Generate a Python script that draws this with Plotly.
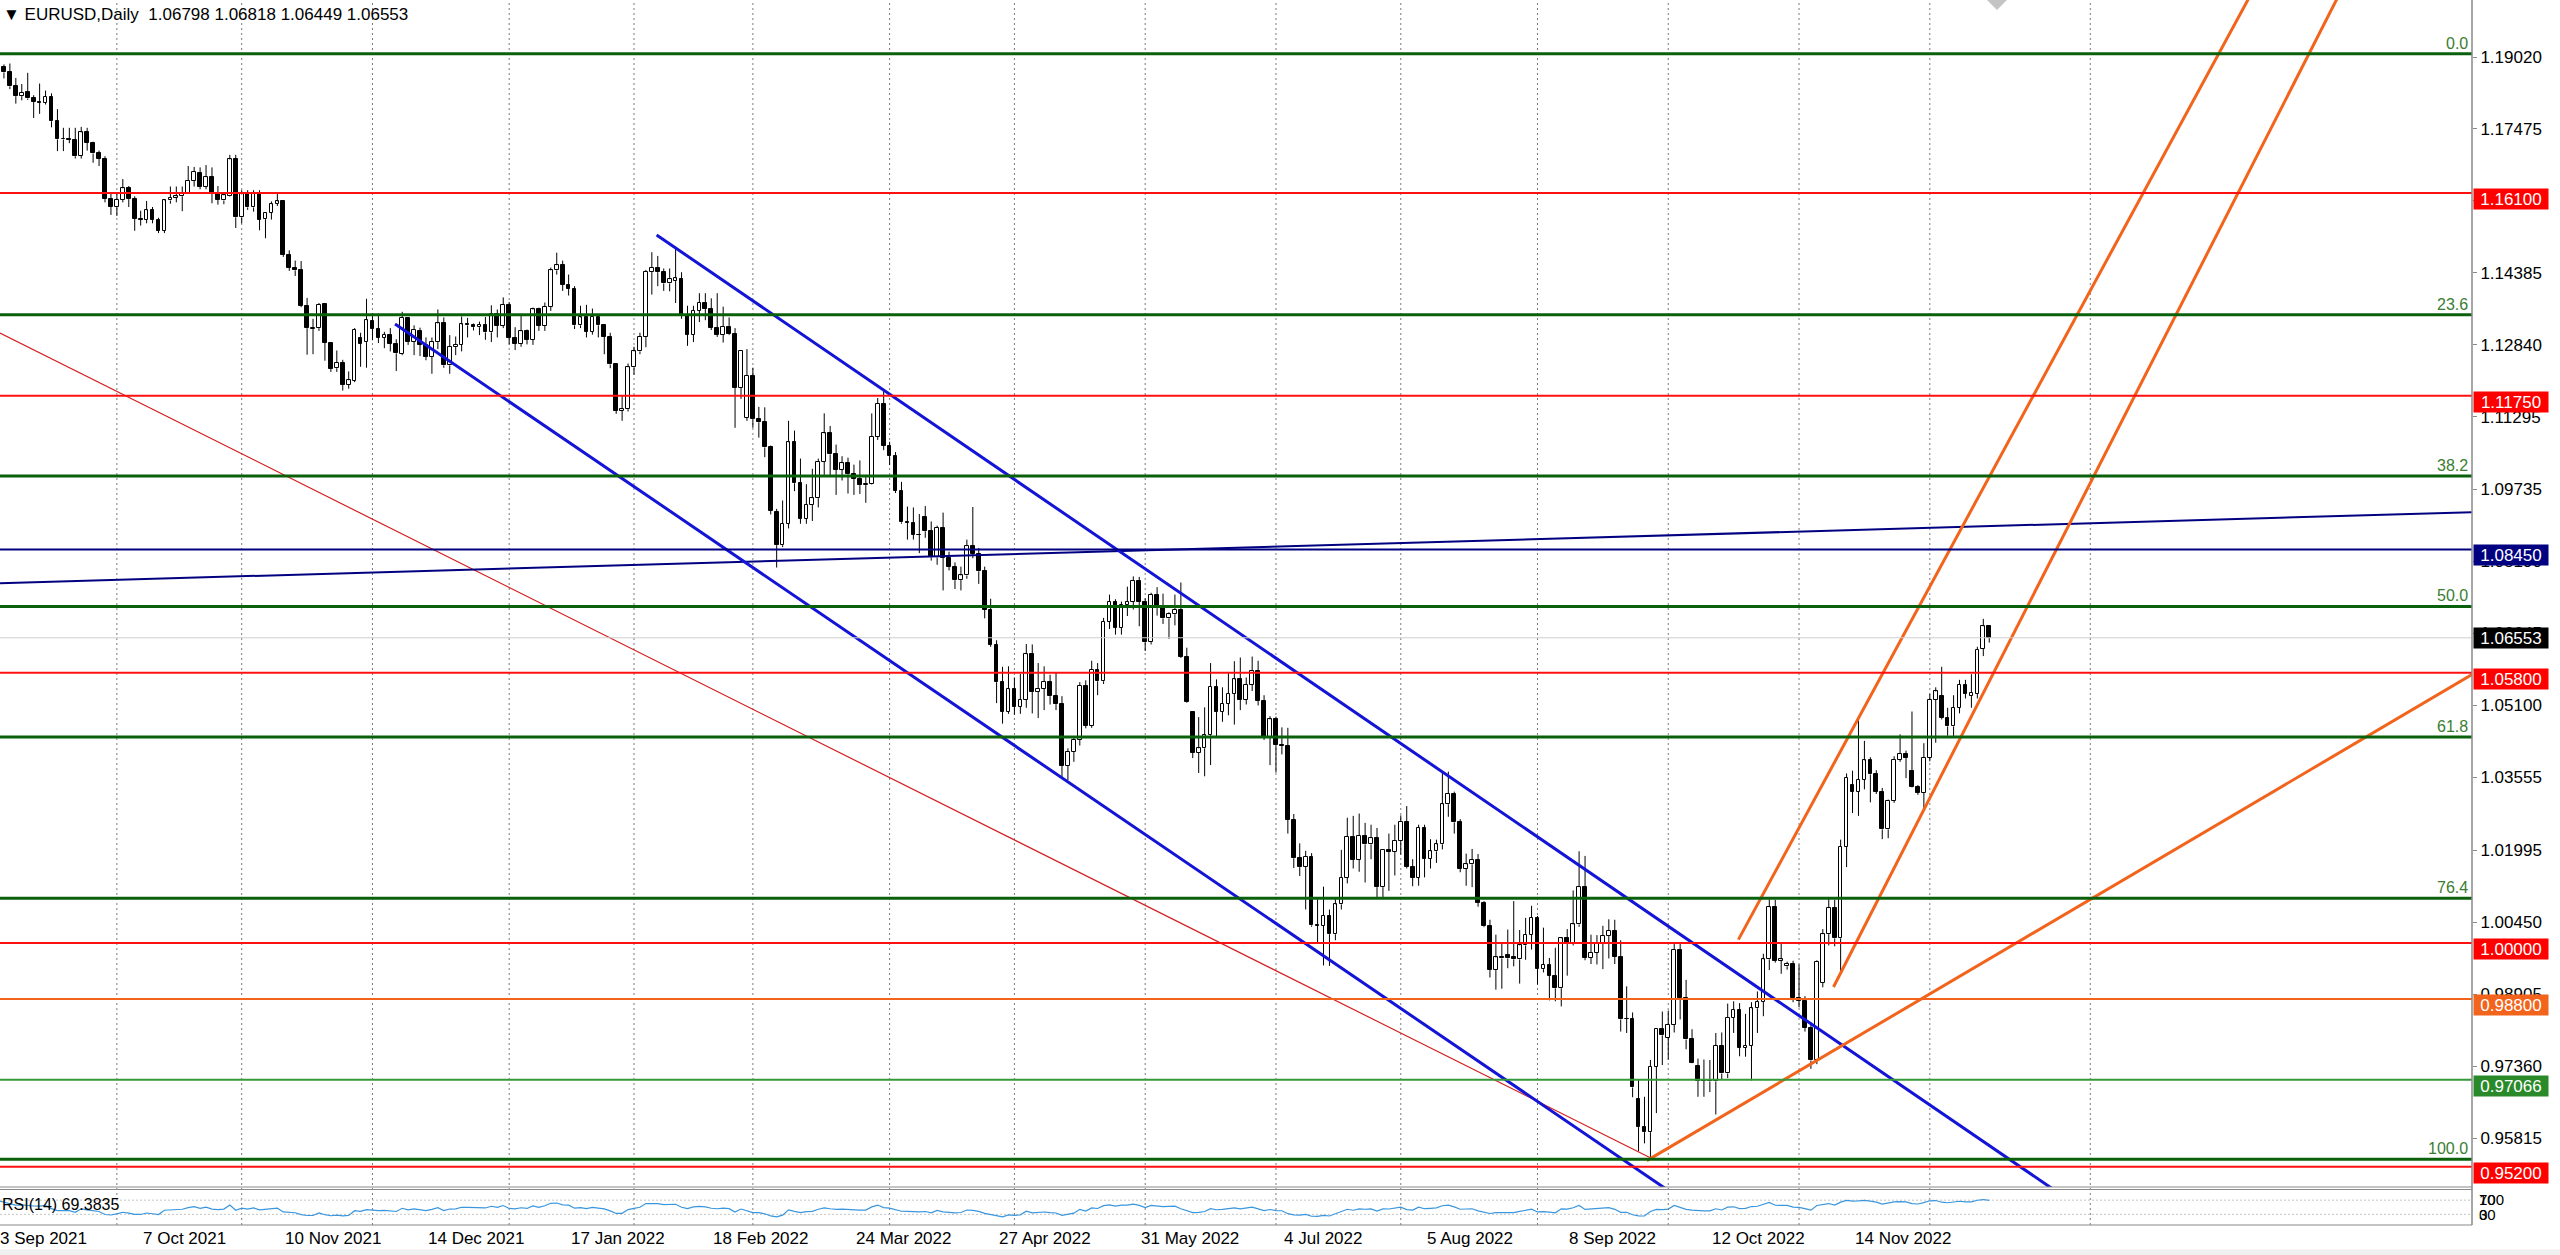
import numpy as np
import plotly.graph_objects as go

# ---------------------------------------------------------------- data
symbol = "EURUSD"
timeframe = "Daily"

opens = [
 1.1874,1.1881,1.1869,1.1839,1.1818,1.1826,1.1813,1.1805,1.1804,1.1817,
 1.1764,1.1725,1.1725,1.1724,1.1690,1.1740,1.1718,1.1695,1.1683,1.1597,
 1.1580,1.1595,1.1620,1.1597,1.1555,1.1553,1.1573,1.1552,1.1529,1.1594,
 1.1600,1.1603,1.1610,1.1636,1.1653,1.1623,1.1644,1.1608,1.1594,1.1603,
 1.1682,1.1558,1.1608,1.1579,1.1610,1.1554,1.1567,1.1587,1.1592,1.1477,
 1.1449,1.1444,1.1368,1.1318,1.1320,1.1371,1.1289,1.1234,1.1246,1.1198,
 1.1207,1.1298,1.1290,1.1336,1.1318,1.1299,1.1306,1.1287,1.1265,1.1342,
 1.1291,1.1314,1.1284,1.1258,1.1290,1.1330,1.1240,1.1280,1.1284,1.1328,
 1.1326,1.1322,1.1327,1.1311,1.1350,1.1325,1.1370,1.1299,1.1287,1.1313,
 1.1295,1.1360,1.1325,1.1366,1.1444,1.1455,1.1413,1.1405,1.1326,1.1343,
 1.1312,1.1344,1.1326,1.1302,1.1242,1.1143,1.1146,1.1236,1.1270,1.1302,
 1.1441,1.1450,1.1440,1.1416,1.1421,1.1425,1.1348,1.1306,1.1357,1.1375,
 1.1361,1.1321,1.1306,1.1323,1.1307,1.1192,1.1127,1.1218,1.1124,1.1118,
 1.1064,1.0926,1.0854,1.0900,1.1075,1.0987,1.0911,1.0941,1.0955,1.1033,
 1.1094,1.1049,1.1016,1.1030,1.1006,1.0997,1.0983,1.0985,1.1087,1.1158,
 1.1067,1.1046,1.0971,1.0903,1.0902,1.0877,1.0915,1.0884,1.0828,1.0891,
 1.0827,1.0808,1.0779,1.0789,1.0852,1.0836,1.0798,1.0715,1.0640,1.0560,
 1.0497,1.0545,1.0507,1.0522,1.0620,1.0539,1.0546,1.0561,1.0530,1.0513,
 1.0380,1.0410,1.0436,1.0552,1.0466,1.0587,1.0562,1.0690,1.0733,1.0677,
 1.0725,1.0733,1.0777,1.0733,1.0646,1.0748,1.0719,1.0697,1.0706,1.0716,
 1.0615,1.0495,1.0408,1.0418,1.0446,1.0550,1.0496,1.0514,1.0535,1.0566,
 1.0522,1.0554,1.0585,1.0520,1.0443,1.0480,1.0425,1.0423,1.0265,1.0182,
 1.0163,1.0185,1.0038,1.0037,1.0059,1.0019,1.0083,1.0140,1.0228,1.0179,
 1.0230,1.0212,1.0225,1.0120,1.0199,1.0196,1.0220,1.0260,1.0163,1.0140,
 1.0248,1.0181,1.0197,1.0212,1.0298,1.0320,1.0259,1.0160,1.0169,1.0178,
 1.0086,1.0036,0.9942,0.9969,0.9975,0.9970,0.9965,0.9995,1.0018,1.0054,
 0.9944,0.9953,0.9930,0.9903,1.0010,1.0000,1.0040,1.0120,0.9968,0.9979,
 0.9999,1.0015,1.0026,0.9970,0.9838,0.9837,0.9665,0.9605,0.9594,0.9735,
 0.9815,0.9797,0.9825,0.9985,0.9882,0.9793,0.9737,0.9704,0.9705,0.9703,
 0.9780,0.9720,0.9840,0.9856,0.9775,0.9780,0.9860,0.9874,0.9965,1.0077,
 0.9962,0.9950,0.9955,0.9883,0.9876,0.9818,0.9748,0.9915,1.0019,1.0075,
 1.0010,1.0207,1.0340,1.0325,1.0350,1.0392,1.0362,1.0325,1.0244,1.0305,
 1.0393,1.0406,1.0370,1.0335,1.0323,1.0398,1.0522,1.0530,1.0483,1.0465,
 1.0505,1.0555,1.0530,1.0535,1.0632,1.06798]

highs = [
 1.1909,1.1886,1.1888,1.1857,1.1844,1.1868,1.1820,1.1845,1.1830,1.1824,
 1.1790,1.1750,1.1750,1.1750,1.1752,1.1750,1.1720,1.1701,1.1689,1.1610,
 1.1608,1.1640,1.1625,1.1603,1.1572,1.1593,1.1580,1.1557,1.1595,1.1624,
 1.1624,1.1624,1.1668,1.1666,1.1665,1.1670,1.1665,1.1625,1.1612,1.1692,
 1.1692,1.1616,1.1616,1.1616,1.1616,1.1569,1.1592,1.1610,1.1595,1.1487,
 1.1465,1.1464,1.1385,1.1340,1.1374,1.1374,1.1290,1.1272,1.1252,1.1227,
 1.1320,1.1310,1.1383,1.1352,1.1351,1.1312,1.1320,1.1296,1.1355,1.1344,
 1.1326,1.1321,1.1300,1.1300,1.1360,1.1343,1.1305,1.1302,1.1345,1.1342,
 1.1330,1.1334,1.1344,1.1369,1.1360,1.1386,1.1376,1.1322,1.1346,1.1317,
 1.1364,1.1364,1.1375,1.1450,1.1482,1.1465,1.1435,1.1410,1.1368,1.1370,
 1.1362,1.1350,1.1329,1.1310,1.1244,1.1174,1.1244,1.1280,1.1310,1.1445,
 1.1483,1.1475,1.1448,1.1448,1.1495,1.1440,1.1368,1.1368,1.1395,1.1395,
 1.1384,1.1395,1.1366,1.1343,1.1320,1.1273,1.1275,1.1235,1.1151,1.1150,
 1.1068,1.0932,1.0950,1.1121,1.1100,1.1040,1.0985,1.1018,1.1040,1.1137,
 1.1110,1.1070,1.1045,1.1042,1.1027,1.1036,1.1005,1.1137,1.1170,1.1185,
 1.1076,1.1054,1.0990,1.0937,1.0935,1.0921,1.0938,1.0905,1.0896,1.0924,
 1.0840,1.0817,1.0808,1.0866,1.0936,1.0848,1.0808,1.0739,1.0650,1.0593,
 1.0594,1.0570,1.0578,1.0642,1.0641,1.0601,1.0594,1.0576,1.0580,1.0530,
 1.0418,1.0443,1.0560,1.0564,1.0606,1.0601,1.0698,1.0748,1.0738,1.0733,
 1.0765,1.0787,1.0786,1.0740,1.0752,1.0764,1.0750,1.0710,1.0748,1.0774,
 1.0634,1.0496,1.0485,1.0506,1.0601,1.0566,1.0549,1.0582,1.0605,1.0613,
 1.0570,1.0615,1.0606,1.0532,1.0487,1.0486,1.0463,1.0462,1.0277,1.0214,
 1.0198,1.0193,1.0096,1.0121,1.0072,1.0097,1.0200,1.0269,1.0273,1.0278,
 1.0258,1.0254,1.0247,1.0195,1.0235,1.0254,1.0274,1.0294,1.0180,1.0254,
 1.0254,1.0223,1.0222,1.0368,1.0368,1.0325,1.0266,1.0192,1.0202,1.0191,
 1.0090,1.0050,1.0018,1.0000,1.0029,1.0090,1.0028,1.0054,1.0080,1.0058,
 1.0033,0.9968,0.9990,1.0011,1.0030,1.0113,1.0197,1.0187,1.0018,1.0017,
 1.0037,1.0051,1.0050,1.0006,0.9907,0.9851,0.9706,0.9670,0.9749,0.9815,
 0.9853,0.9855,0.9999,0.9999,0.9921,0.9815,0.9752,0.9750,0.9749,0.9807,
 0.9808,0.9870,0.9875,0.9871,0.9848,0.9873,0.9896,0.9977,1.0094,1.0093,
 1.0001,0.9960,0.9962,0.9954,0.9886,0.9830,0.9963,1.0030,1.0097,1.0093,
 1.0222,1.0364,1.0370,1.0481,1.0434,1.0399,1.0371,1.0333,1.0308,1.0401,
 1.0448,1.0413,1.0497,1.0339,1.0429,1.0535,1.0549,1.0593,1.0505,1.0532,
 1.0565,1.0565,1.0577,1.0636,1.0696,1.06818]

lows = [
 1.1858,1.1856,1.1833,1.1802,1.1809,1.1810,1.1771,1.1780,1.1800,1.1751,
 1.1700,1.1700,1.1717,1.1684,1.1684,1.1701,1.1675,1.1668,1.1590,1.1563,
 1.1561,1.1590,1.1580,1.1529,1.1540,1.1545,1.1545,1.1524,1.1524,1.1587,
 1.1590,1.1571,1.1609,1.1624,1.1618,1.1618,1.1588,1.1585,1.1586,1.1602,
 1.1535,1.1545,1.1574,1.1570,1.1530,1.1513,1.1553,1.1582,1.1473,1.1443,
 1.1432,1.1365,1.1263,1.1264,1.1314,1.1250,1.1226,1.1226,1.1186,1.1190,
 1.1204,1.1237,1.1235,1.1294,1.1288,1.1277,1.1270,1.1228,1.1262,1.1284,
 1.1262,1.1260,1.1251,1.1222,1.1275,1.1235,1.1222,1.1262,1.1270,1.1300,
 1.1315,1.1305,1.1295,1.1290,1.1300,1.1320,1.1285,1.1273,1.1280,1.1285,
 1.1284,1.1314,1.1314,1.1357,1.1435,1.1400,1.1390,1.1318,1.1320,1.1300,
 1.1306,1.1300,1.1264,1.1234,1.1136,1.1121,1.1141,1.1220,1.1264,1.1279,
 1.1392,1.1410,1.1400,1.1399,1.1374,1.1340,1.1282,1.1290,1.1333,1.1337,
 1.1316,1.1301,1.1289,1.1305,1.1106,1.1168,1.1121,1.1106,1.1085,1.1043,
 1.0920,1.0806,1.0850,1.0890,1.0970,1.0900,1.0900,1.0906,1.0935,1.1005,
 1.1003,1.0962,1.0993,1.0965,1.0962,1.0964,1.0945,1.0984,1.1080,1.1058,
 1.1026,1.0966,1.0900,1.0866,1.0866,1.0837,1.0870,1.0821,1.0812,1.0757,
 1.0800,1.0760,1.0757,1.0782,1.0826,1.0771,1.0697,1.0636,1.0515,1.0471,
 1.0492,1.0490,1.0492,1.0505,1.0493,1.0483,1.0500,1.0512,1.0500,1.0354,
 1.0350,1.0389,1.0424,1.0461,1.0462,1.0532,1.0556,1.0674,1.0662,1.0662,
 1.0702,1.0716,1.0680,1.0627,1.0641,1.0703,1.0685,1.0653,1.0682,1.0612,
 1.0516,1.0397,1.0365,1.0358,1.0382,1.0444,1.0475,1.0489,1.0469,1.0500,
 1.0512,1.0541,1.0510,1.0436,1.0382,1.0366,1.0405,1.0235,1.0161,1.0144,
 1.0072,1.0035,0.9998,0.9952,0.9951,1.0006,1.0072,1.0128,1.0160,1.0153,
 1.0130,1.0180,1.0097,1.0095,1.0112,1.0145,1.0190,1.0160,1.0122,1.0123,
 1.0141,1.0160,1.0172,1.0201,1.0271,1.0235,1.0152,1.0123,1.0120,1.0078,
 1.0034,0.9926,0.9900,0.9902,0.9946,0.9950,0.9913,0.9964,0.9986,0.9911,
 0.9937,0.9877,0.9875,0.9864,0.9930,0.9995,1.0035,0.9963,0.9955,0.9954,
 0.9944,0.9967,0.9955,0.9810,0.9807,0.9669,0.9553,0.9570,0.9536,0.9635,
 0.9738,0.9750,0.9808,0.9836,0.9772,0.9742,0.9670,0.9670,0.9680,0.9632,
 0.9707,0.9710,0.9807,0.9757,0.9756,0.9705,0.9807,0.9843,0.9942,0.9958,
 0.9934,0.9943,0.9873,0.9862,0.9810,0.9730,0.9740,0.9905,0.9995,0.9993,
 0.9935,1.0163,1.0279,1.0273,1.0330,1.0302,1.0320,1.0223,1.0225,1.0301,
 1.0389,1.0354,1.0334,1.0318,1.0290,1.0390,1.0430,1.0480,1.0445,1.0443,
 1.0493,1.0525,1.0505,1.0525,1.0616,1.06449]

closes = [
 1.1882,1.1869,1.1839,1.1818,1.1825,1.1813,1.1806,1.1804,1.1817,1.1764,
 1.1725,1.1726,1.1724,1.1689,1.1740,1.1718,1.1695,1.1683,1.1597,1.1580,
 1.1595,1.1620,1.1597,1.1555,1.1553,1.1573,1.1552,1.1529,1.1594,1.1600,
 1.1603,1.1610,1.1636,1.1655,1.1623,1.1644,1.1608,1.1595,1.1605,1.1682,
 1.1558,1.1607,1.1579,1.1610,1.1553,1.1567,1.1586,1.1592,1.1477,1.1449,
 1.1444,1.1368,1.1320,1.1320,1.1370,1.1289,1.1233,1.1246,1.1198,1.1208,
 1.1316,1.1287,1.1337,1.1319,1.1299,1.1306,1.1287,1.1266,1.1342,1.1291,
 1.1316,1.1284,1.1258,1.1290,1.1330,1.1240,1.1280,1.1284,1.1328,1.1326,
 1.1322,1.1327,1.1311,1.1350,1.1325,1.1370,1.1299,1.1287,1.1313,1.1295,
 1.1360,1.1325,1.1366,1.1444,1.1455,1.1413,1.1405,1.1326,1.1343,1.1312,
 1.1344,1.1326,1.1302,1.1242,1.1143,1.1146,1.1236,1.1270,1.1302,1.1441,
 1.1450,1.1440,1.1416,1.1425,1.1427,1.1348,1.1306,1.1357,1.1375,1.1361,
 1.1321,1.1306,1.1323,1.1307,1.1192,1.1271,1.1218,1.1124,1.1118,1.1064,
 1.0928,1.0854,1.0900,1.1075,1.0987,1.0911,1.0941,1.0955,1.1033,1.1094,
 1.1049,1.1016,1.1030,1.1006,1.0997,1.0983,1.0985,1.1087,1.1158,1.1067,
 1.1046,1.0971,1.0903,1.0902,1.0877,1.0876,1.0884,1.0828,1.0891,1.0827,
 1.0808,1.0779,1.0789,1.0852,1.0836,1.0798,1.0715,1.0640,1.0560,1.0497,
 1.0545,1.0507,1.0522,1.0620,1.0539,1.0546,1.0561,1.0530,1.0513,1.0380,
 1.0410,1.0436,1.0552,1.0466,1.0587,1.0562,1.0690,1.0733,1.0677,1.0725,
 1.0733,1.0777,1.0733,1.0646,1.0748,1.0719,1.0697,1.0706,1.0716,1.0615,
 1.0518,1.0408,1.0418,1.0446,1.0550,1.0496,1.0514,1.0535,1.0566,1.0522,
 1.0554,1.0585,1.0520,1.0443,1.0480,1.0425,1.0423,1.0265,1.0182,1.0163,
 1.0185,1.0038,1.0037,1.0059,1.0019,1.0083,1.0140,1.0228,1.0179,1.0230,
 1.0212,1.0225,1.0120,1.0199,1.0196,1.0220,1.0260,1.0163,1.0140,1.0248,
 1.0181,1.0197,1.0212,1.0298,1.0320,1.0259,1.0160,1.0169,1.0178,1.0086,
 1.0036,0.9942,0.9969,0.9967,0.9967,0.9965,0.9995,1.0018,1.0054,0.9944,
 0.9953,0.9930,0.9903,1.0010,1.0000,1.0040,1.0120,0.9968,0.9979,0.9999,
 1.0015,1.0026,0.9970,0.9836,0.9837,0.9690,0.9605,0.9594,0.9735,0.9815,
 0.9802,0.9825,0.9985,0.9882,0.9793,0.9743,0.9704,0.9705,0.9703,0.9780,
 0.9720,0.9840,0.9856,0.9775,0.9780,0.9860,0.9874,0.9965,1.0077,0.9962,
 0.9965,0.9955,0.9883,0.9876,0.9818,0.9748,0.9960,1.0019,1.0075,1.0010,
 1.0207,1.0355,1.0325,1.0350,1.0392,1.0362,1.0325,1.0244,1.0305,1.0393,
 1.0406,1.0398,1.0335,1.0323,1.0398,1.0522,1.0540,1.0483,1.0465,1.0505,
 1.0555,1.0535,1.0537,1.0630,1.0680,1.06553]

# closes before the first visible bar (used only to seed the RSI)
prior_closes = [1.1738, 1.1795, 1.1779, 1.1711, 1.1710, 1.1676, 1.1700, 1.1747,
                1.1754, 1.1772, 1.1752, 1.1794, 1.1797, 1.1808, 1.1841, 1.1875]

date_label_bars = [0, 24, 48, 72, 96, 120, 144, 168, 192, 216, 240, 264, 288, 312]
date_label_text = ["3 Sep 2021", "7 Oct 2021", "10 Nov 2021", "14 Dec 2021", "17 Jan 2022",
                   "18 Feb 2022", "24 Mar 2022", "27 Apr 2022", "31 May 2022", "4 Jul 2022",
                   "5 Aug 2022", "8 Sep 2022", "12 Oct 2022", "14 Nov 2022"]
month_start_bars = [20, 41, 63, 86, 107, 127, 150, 171, 193, 215, 236, 259, 281, 303, 325, 352]

price_tick_values = [1.19020, 1.17475, 1.15930, 1.14385, 1.12840, 1.11295, 1.09735, 1.08190,
                     1.06645, 1.05100, 1.03555, 1.01995, 1.00450, 0.98905, 0.97360, 0.95815]

fib_high, fib_low = 1.19090, 0.95360
fib_ratios = [0.0, 23.6, 38.2, 50.0, 61.8, 76.4, 100.0]
red_levels = [1.16100, 1.11750, 1.05800, 1.00000, 0.95200]
navy_level = 1.08450
orange_level = 0.98800
green_level = 0.97066
rsi_period = 14
rsi_levels = [70, 30]
rsi_label = "RSI(14) 69.3835"

# trend lines: two anchor points (bar index, price), ray = extends to the right
trend_blue_upper = dict(bars=[110.8, 205.6], prices=[1.15199, 1.06934], ray=True)
trend_blue_lower = dict(bars=[66.8, 252.7], prices=[1.13289, 0.97146], ray=True)
trend_red_thin = dict(bars=[0.34, 278.3], prices=[1.13095, 0.95370], ray=False)
trend_navy = dict(bars=[0.34, 416.2], prices=[1.07725, 1.09247], ray=False)
trend_orange_base = dict(bars=[277.4, 340.2], prices=[0.95330, 1.00050], ray=True)
trend_orange_ch1 = dict(bars=[292.8, 325.6], prices=[1.00074, 1.07793], ray=True)
trend_orange_ch2 = dict(bars=[308.8, 340.2], prices=[0.99056, 1.06920], ray=True)

# grey diamond object sitting on the top edge (bar index, price)
diamond_bar, diamond_price = 336.3, 1.2031

# ---------------------------------------------------------------- geometry / style
W, H = 2560, 1255
AXIS_X = 2472
MAIN_BOTTOM = 1187
RSI_TOP, RSI_BOTTOM = 1189.5, 1225
BAR_PX, BAR0_X = 5.944, -2.0
PRICE_REF, PRICE_REF_Y, PX_PER_PRICE = 1.19020, 57.0, 4658.5
FONT = "Liberation Sans, Arial, sans-serif"


def py(px):
    return 1 - px / H


def bar_paper_x(b):
    return (BAR0_X + b * BAR_PX) / W


x_range = [(0 - BAR0_X) / BAR_PX, (AXIS_X - BAR0_X) / BAR_PX]
y_range = [PRICE_REF - (MAIN_BOTTOM - PRICE_REF_Y) / PX_PER_PRICE,
           PRICE_REF + PRICE_REF_Y / PX_PER_PRICE]

o = np.array(opens); h = np.array(highs); l = np.array(lows); c = np.array(closes)
n = len(c)
bars = np.arange(n)
body_lo = np.minimum(o, c)
body_hi = np.maximum(o, c)
body_h = np.maximum(body_hi - body_lo, 0.00008)
body_col = np.where(c >= o, "white", "black")

fig = go.Figure()

# wicks (upper and lower parts, so they never cross the bodies)
wx, wy = [], []
for i in range(n):
    if h[i] > body_hi[i]:
        wx += [i, i, None]; wy += [h[i], body_hi[i], None]
    if l[i] < body_lo[i]:
        wx += [i, i, None]; wy += [body_lo[i], l[i], None]
fig.add_trace(go.Scatter(x=wx, y=wy, mode="lines", line=dict(color="black", width=1),
                         hoverinfo="skip", showlegend=False))
fig.add_trace(go.Bar(x=bars, y=body_h, base=body_lo, width=0.62,
                     marker=dict(color=body_col, line=dict(color="black", width=1)),
                     hoverinfo="skip", showlegend=False))


# trend lines
def add_trend(t, color, width):
    b = list(t["bars"]); p = list(t["prices"])
    if t["ray"]:
        slope = (p[1] - p[0]) / (b[1] - b[0])
        bend = x_range[1] + 5
        b = [b[0], bend]; p = [p[0], p[0] + slope * (bend - t["bars"][0])]
    fig.add_trace(go.Scatter(x=b, y=p, mode="lines", line=dict(color=color, width=width),
                             hoverinfo="skip", showlegend=False))


add_trend(trend_red_thin, "#d42020", 1.2)
add_trend(trend_navy, "#000080", 2)
add_trend(trend_blue_lower, "#1414d6", 3)
add_trend(trend_blue_upper, "#1414d6", 3)
add_trend(trend_orange_base, "#f2641c", 3)
add_trend(trend_orange_ch1, "#f2641c", 3)
add_trend(trend_orange_ch2, "#f2641c", 3)

fig.add_trace(go.Scatter(x=[diamond_bar], y=[diamond_price], mode="markers", cliponaxis=True,
                         marker=dict(symbol="diamond", size=20, color="#c4c4c4",
                                     line=dict(width=0)),
                         hoverinfo="skip", showlegend=False))

# RSI (Wilder)
all_c = np.array(prior_closes + closes)
d = np.diff(all_c)
g = np.clip(d, 0, None); lo_ = np.clip(-d, 0, None)
ag = g[:rsi_period].mean(); al = lo_[:rsi_period].mean()
rsi_all = [None] * (rsi_period + 1)
rsi_all[-1] = 100 - 100 / (1 + ag / al)
for k in range(rsi_period, len(d)):
    ag = (ag * (rsi_period - 1) + g[k]) / rsi_period
    al = (al * (rsi_period - 1) + lo_[k]) / rsi_period
    rsi_all.append(100 - 100 / (1 + ag / al))
rsi_vals = rsi_all[len(prior_closes):]
fig.add_trace(go.Scatter(x=bars, y=rsi_vals, mode="lines", yaxis="y2",
                         line=dict(color="#3a96dd", width=1.2), hoverinfo="skip",
                         showlegend=False))

shapes = []
ax_frac = AXIS_X / W
# vertical dotted grid
for b in month_start_bars:
    shapes.append(dict(type="line", xref="x", yref="paper", x0=b, x1=b,
                       y0=py(RSI_BOTTOM), y1=1, layer="below",
                       line=dict(color="#7a7a7a", width=1, dash="2px,3px")))
# RSI levels
for lv in rsi_levels:
    shapes.append(dict(type="line", xref="paper", yref="y2", x0=0, x1=ax_frac, y0=lv, y1=lv,
                       layer="below", line=dict(color="#c4c4c4", width=1, dash="2px,2px")))


# horizontal objects
def hline(p, color, width):
    shapes.append(dict(type="line", xref="paper", yref="y", x0=0, x1=ax_frac, y0=p, y1=p,
                       line=dict(color=color, width=width)))


hline(closes[-1], "#cfcfcf", 1)
fib_levels = [fib_high - r / 100 * (fib_high - fib_low) for r in fib_ratios]
for p in fib_levels:
    hline(p, "#0b610b", 3)
for p in red_levels:
    hline(p, "#ff1010", 2)
hline(navy_level, "#000080", 2)
hline(orange_level, "#f2641c", 2)
hline(green_level, "#33993a", 2)

# frame lines
gray = "#8a8a8a"
shapes += [
    dict(type="line", xref="paper", yref="paper", x0=ax_frac, x1=ax_frac, y0=py(RSI_BOTTOM), y1=1,
         line=dict(color=gray, width=1.5)),
    dict(type="line", xref="paper", yref="paper", x0=0, x1=ax_frac, y0=py(MAIN_BOTTOM), y1=py(MAIN_BOTTOM),
         line=dict(color=gray, width=1.2)),
    dict(type="line", xref="paper", yref="paper", x0=0, x1=ax_frac, y0=py(RSI_TOP), y1=py(RSI_TOP),
         line=dict(color=gray, width=1.2)),
    dict(type="line", xref="paper", yref="paper", x0=0, x1=ax_frac, y0=py(RSI_BOTTOM), y1=py(RSI_BOTTOM),
         line=dict(color=gray, width=1.2)),
    dict(type="rect", xref="paper", yref="paper", x0=0, x1=1, y0=0, y1=py(1249.5),
         fillcolor="#f0f0f0", line=dict(width=0), layer="below"),
]

ann = []
# header
ann.append(dict(xref="paper", yref="paper", x=0.0005, y=py(15), xanchor="left", yanchor="middle",
                showarrow=False, font=dict(family=FONT, size=17, color="black"),
                text=f"\u25BC {symbol},{timeframe}  {opens[-1]:.5f} {highs[-1]:.5f} "
                     f"{lows[-1]:.5f} {closes[-1]:.5f}"))
# fib labels
for r, p in zip(fib_ratios, fib_levels):
    ann.append(dict(xref="paper", yref="y", x=(AXIS_X - 2) / W, y=p, xanchor="right",
                    yanchor="bottom", showarrow=False, text=f"{r:.1f}",
                    font=dict(family=FONT, size=16, color="#3a7d32")))
# price label boxes
boxes = [(p, "#ff0000", -6) for p in red_levels] + [
    (navy_level, "#000080", -6), (orange_level, "#f2641c", -6),
    (green_level, "#2a8a2a", -6), (closes[-1], "#000000", 0)]
for p, col, ys in boxes:
    ann.append(dict(xref="paper", yref="y", x=(AXIS_X + 1) / W, y=p, xanchor="left",
                    yanchor="middle", yshift=ys, showarrow=False, text=f"{p:.5f}",
                    bgcolor=col, width=72, height=18, borderpad=1,
                    font=dict(family=FONT, size=17, color="white")))
# date labels (left edge at the bar)
for b, t in zip(date_label_bars, date_label_text):
    ann.append(dict(xref="paper", yref="paper", x=bar_paper_x(b), y=py(1238), xanchor="left",
                    yanchor="middle", showarrow=False, text=t,
                    font=dict(family=FONT, size=17, color="black")))
# RSI texts
ann.append(dict(xref="paper", yref="paper", x=0, y=py(1204), xanchor="left", yanchor="middle",
                showarrow=False, text=rsi_label, font=dict(family=FONT, size=16, color="black")))
for t, yy in [("100", 1199.5), ("70", 1199.5), ("30", 1214), ("0", 1214)]:
    ann.append(dict(xref="paper", yref="paper", x=(AXIS_X + 5) / W, y=py(yy), xanchor="left",
                    yanchor="middle", showarrow=False, text=t,
                    font=dict(family=FONT, size=15, color="black")))

fig.update_layout(
    width=W, height=H, margin=dict(l=0, r=0, t=0, b=0, pad=0),
    paper_bgcolor="white", plot_bgcolor="white", showlegend=False,
    barmode="overlay", bargap=0,
    xaxis=dict(domain=[0, ax_frac], range=x_range, visible=False, fixedrange=True),
    yaxis=dict(domain=[py(MAIN_BOTTOM), 1], range=y_range, side="right", anchor="x",
               tickvals=price_tick_values, ticktext=[f"{v:.5f}" for v in price_tick_values],
               ticks="outside", ticklen=4, tickcolor=gray, showgrid=False, zeroline=False,
               showline=False, automargin=False,
               tickfont=dict(family=FONT, size=17, color="black")),
    yaxis2=dict(domain=[py(RSI_BOTTOM), py(RSI_TOP)], range=[0, 100], anchor="x",
                visible=False),
    shapes=shapes, annotations=ann,
)

fig.write_html("out.html", config={"displayModeBar": False},
               post_script="document.body.style.margin='0';document.body.style.overflow='hidden';")
